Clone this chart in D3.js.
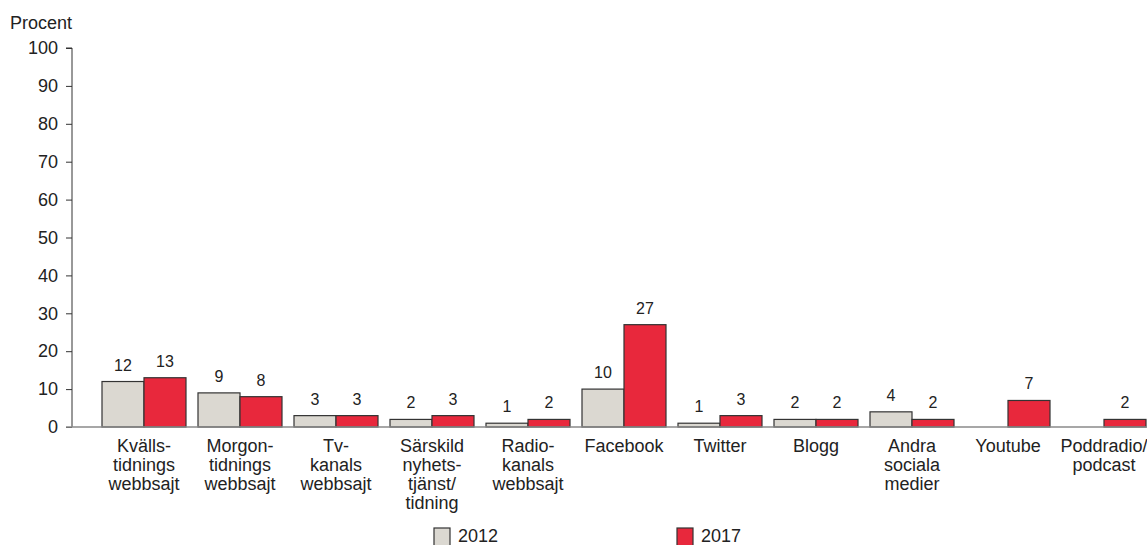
<!DOCTYPE html>
<html><head><meta charset="utf-8">
<script src="https://cdn.jsdelivr.net/npm/d3@7"></script>
<style>body{margin:0;background:#fff;} text{font-family:"Liberation Sans",Arial,sans-serif;fill:#222;}</style>
</head><body>
<svg id="c" width="1147" height="545"></svg>
<script>
const categories = [
  ["Kvälls-","tidnings","webbsajt"],
  ["Morgon-","tidnings","webbsajt"],
  ["Tv-","kanals","webbsajt"],
  ["Särskild","nyhets-","tjänst/","tidning"],
  ["Radio-","kanals","webbsajt"],
  ["Facebook"],
  ["Twitter"],
  ["Blogg"],
  ["Andra","sociala","medier"],
  ["Youtube"],
  ["Poddradio/","podcast"]
];
const values2012 = [12, 9, 3, 2, 1, 10, 1, 2, 4, null, null];
const values2017 = [13, 8, 3, 3, 2, 27, 3, 2, 2, 7, 2];
const seriesNames = ["2012", "2017"];
const yTicks = [0,10,20,30,40,50,60,70,80,90,100];
const colors = {"2012":"#dbd8d1","2017":"#e8283c"};

const svg = d3.select("#c");
const idx = d3.range(categories.length);
const x0 = d3.scaleBand().domain(idx).range([96, 1152]).paddingInner(0.125).paddingOuter(0.0625);
const x1 = d3.scaleBand().domain(seriesNames).range([0, x0.bandwidth()]);
const y = d3.scaleLinear().domain([0,100]).range([427, 48]);

// y axis
const yAxis = d3.axisLeft(y).tickValues(yTicks).tickSize(6).tickPadding(8);
const gy = svg.append("g").attr("transform","translate(72,0)").call(yAxis);
gy.select(".domain").attr("stroke","#333").attr("d","M-6,"+y(100)+"H0V"+y(0));
gy.selectAll(".tick line").attr("stroke","#333");
gy.selectAll(".tick text").style("font-size","18px").attr("fill","#222").style("font-family","Liberation Sans, Arial, sans-serif");

svg.append("text").attr("x",10).attr("y",29).style("font-size","18px").text("Procent");

const data = [];
idx.forEach(i => {
  data.push({i, s:"2012", v: values2012[i]});
  data.push({i, s:"2017", v: values2017[i]});
});
const valid = data.filter(d => d.v !== null);

svg.append("g").selectAll("rect").data(valid).join("rect")
  .attr("x", d => x0(d.i) + x1(d.s))
  .attr("y", d => y(d.v))
  .attr("width", x1.bandwidth())
  .attr("height", d => y(0) - y(d.v))
  .attr("fill", d => colors[d.s])
  .attr("stroke", "#333").attr("stroke-width", 1.2);

// baseline
svg.append("line").attr("x1",66).attr("x2",1147).attr("y1",y(0)).attr("y2",y(0)).attr("stroke","#8a8a8a").attr("stroke-width",1.5);

svg.append("g").selectAll("text").data(valid).join("text")
  .attr("x", d => x0(d.i) + x1(d.s) + x1.bandwidth()/2)
  .attr("y", d => y(d.v) - 11)
  .attr("text-anchor","middle").style("font-size","16px")
  .text(d => d.v);

// category labels
const cg = svg.append("g").selectAll("text").data(idx).join("text")
  .attr("x", i => x0(i) + x0.bandwidth()/2)
  .attr("y", 452)
  .attr("text-anchor","middle").style("font-size","18px");
cg.each(function(i){
  const t = d3.select(this);
  categories[i].forEach((line, k) => {
    t.append("tspan").attr("x", x0(i) + x0.bandwidth()/2).attr("dy", k===0 ? 0 : 19).text(line);
  });
});

// legend
const legendX = [434, 677];
seriesNames.forEach((s, k) => {
  svg.append("rect").attr("x", legendX[k]).attr("y", 528).attr("width", 16).attr("height", 18)
    .attr("fill", colors[s]).attr("stroke","#333").attr("stroke-width",1.2);
  svg.append("text").attr("x", legendX[k] + 24).attr("y", 542).style("font-size","18px").text(s);
});
</script>
</body></html>
